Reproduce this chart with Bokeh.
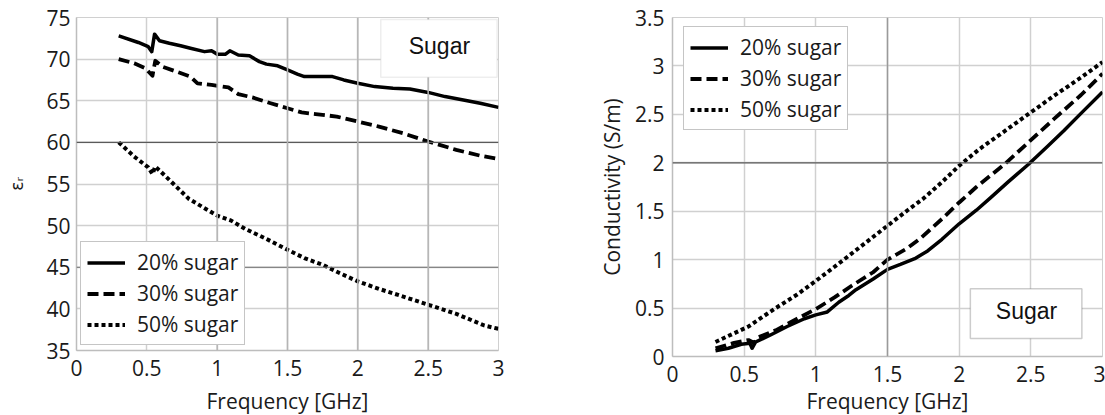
from bokeh.plotting import figure
from bokeh.layouts import row
from bokeh.models import (Legend, LegendItem, Span, BoxAnnotation, Label,
                          FixedTicker, NumeralTickFormatter, Range1d)
from bokeh.embed import file_html
from bokeh.resources import INLINE

# ---------------- data ----------------
series_labels = ["20% sugar", "30% sugar", "50% sugar"]
x_ticks = [0, 0.5, 1, 1.5, 2, 2.5, 3]
eps_ticks = [35, 40, 45, 50, 55, 60, 65, 70, 75]
cond_ticks = [0, 0.5, 1, 1.5, 2, 2.5, 3, 3.5]

# permittivity (left)
freq_eps_20 = [0.30, 0.44, 0.51, 0.535, 0.555, 0.59, 0.66, 0.74, 0.81, 0.91, 0.96, 1.00,
               1.06, 1.09, 1.15, 1.23, 1.30, 1.35, 1.43, 1.50, 1.57, 1.62, 1.70, 1.82,
               1.90, 2.00, 2.12, 2.25, 2.37, 2.50, 2.62, 2.75, 2.87, 3.00]
eps_20 = [72.8, 72.0, 71.5, 70.9, 73.0, 72.2, 71.9, 71.6, 71.3, 70.9, 71.0, 70.6,
          70.6, 71.0, 70.5, 70.4, 69.7, 69.4, 69.2, 68.7, 68.2, 67.9, 67.9, 67.9,
          67.5, 67.1, 66.7, 66.5, 66.4, 66.0, 65.5, 65.1, 64.7, 64.2]

freq_eps_30 = [0.30, 0.41, 0.49, 0.54, 0.56, 0.61, 0.71, 0.81, 0.86, 0.96, 1.08, 1.15,
               1.25, 1.38, 1.50, 1.60, 1.70, 1.85, 2.00, 2.15, 2.32, 2.50, 2.70, 2.87, 3.00]
eps_30 = [70.0, 69.5, 68.9, 68.0, 69.8, 69.1, 68.5, 67.9, 67.1, 66.9, 66.6, 65.8,
          65.4, 64.7, 64.1, 63.6, 63.4, 63.1, 62.5, 61.9, 61.1, 60.1, 59.1, 58.4, 58.0]

freq_eps_50 = [0.30, 0.41, 0.51, 0.54, 0.56, 0.66, 0.80, 0.96, 1.00, 1.10, 1.20, 1.35,
               1.50, 1.62, 1.75, 1.87, 2.00, 2.15, 2.30, 2.50, 2.70, 2.90, 3.00]
eps_50 = [60.0, 58.3, 57.0, 56.2, 57.1, 55.5, 53.2, 51.6, 51.2, 50.6, 49.6, 48.4,
          47.1, 46.1, 45.3, 44.3, 43.3, 42.4, 41.6, 40.5, 39.4, 38.0, 37.6]

# conductivity (right)
freq_cond_20 = [0.30, 0.39, 0.48, 0.54, 0.555, 0.58, 0.68, 0.80, 0.92, 1.00, 1.08, 1.16,
                1.23, 1.28, 1.40, 1.50, 1.59, 1.69, 1.78, 1.88, 2.00, 2.12, 2.22, 2.34,
                2.48, 2.61, 2.73, 2.85, 3.00]
cond_20 = [0.06, 0.085, 0.126, 0.136, 0.085, 0.15, 0.22, 0.31, 0.39, 0.43, 0.46, 0.56,
           0.63, 0.69, 0.80, 0.90, 0.95, 1.01, 1.09, 1.21, 1.37, 1.51, 1.64, 1.80,
           1.98, 2.16, 2.33, 2.51, 2.73]

freq_cond_30 = [0.30, 0.43, 0.53, 0.57, 0.60, 0.72, 0.87, 1.00, 1.13, 1.25, 1.40, 1.50,
                1.64, 1.73, 1.88, 2.00, 2.12, 2.32, 2.49, 2.66, 2.85, 3.00]
cond_30 = [0.085, 0.14, 0.17, 0.14, 0.20, 0.27, 0.39, 0.49, 0.61, 0.73, 0.87, 1.00,
           1.12, 1.22, 1.42, 1.59, 1.75, 1.99, 2.22, 2.45, 2.70, 2.92]

freq_cond_50 = [0.30, 0.43, 0.53, 0.58, 0.72, 0.87, 1.00, 1.16, 1.30, 1.50, 1.64, 1.75,
                1.88, 2.00, 2.14, 2.32, 2.49, 2.66, 2.85, 3.00]
cond_50 = [0.15, 0.24, 0.31, 0.36, 0.50, 0.64, 0.78, 0.96, 1.12, 1.35, 1.51, 1.63,
           1.80, 1.97, 2.14, 2.33, 2.51, 2.69, 2.88, 3.04]

# ---------------- styling ----------------
FONT = "Open Sans"
TXT = "#1a1a1a"
GRID = "#d0d0d0"
dashes = ["solid", "11 5", "4 3"]
widths = [3.5, 3.8, 4.0]


def base_fig(x_rng, y_rng, frame_w, frame_h, bl, br, bt, bb, w, label_standoff):
    p = figure(width=w, frame_width=frame_w, frame_height=frame_h,
               x_range=x_rng, y_range=y_rng, output_backend="svg",
               toolbar_location=None, min_border_left=bl, min_border_right=br,
               min_border_top=bt, min_border_bottom=bb)
    p.outline_line_color = GRID
    p.background_fill_color = "white"
    p.border_fill_color = "white"
    for ax in (p.xaxis[0], p.yaxis[0]):
        ax.major_tick_in = 0
        ax.major_tick_out = 0
        ax.minor_tick_in = 0
        ax.minor_tick_out = 0
        ax.axis_line_color = "#bdbdbd"
        ax.axis_line_width = 1.5
        ax.major_label_text_font = FONT
        ax.major_label_text_font_size = "21px"
        ax.major_label_text_color = TXT
        ax.axis_label_text_font = FONT
        ax.axis_label_text_font_size = "21px"
        ax.axis_label_text_font_style = "normal"
        ax.axis_label_text_color = TXT
        ax.formatter = NumeralTickFormatter(format="0.[0]")
    p.xaxis.ticker = FixedTicker(ticks=x_ticks)
    p.xgrid.ticker = FixedTicker(ticks=x_ticks)
    p.grid.grid_line_color = GRID
    p.grid.grid_line_width = 1.5
    p.xaxis.axis_label = "Frequency [GHz]"
    p.xaxis.major_label_standoff = 9
    p.xaxis.axis_label_standoff = label_standoff
    return p


def add_legend(p, renderers, loc):
    items = [LegendItem(label=lab, renderers=[r]) for lab, r in zip(series_labels, renderers)]
    lg = Legend(items=items, location=loc, margin=0, padding=6, spacing=3,
                label_height=25, glyph_height=25, glyph_width=38, label_standoff=12,
                border_line_color="#8c8c8c", border_line_width=1.2,
                background_fill_color="white", background_fill_alpha=1.0,
                label_text_font=FONT, label_text_font_size="21px",
                label_text_color=TXT)
    p.add_layout(lg)


# ---------------- left: permittivity ----------------
p1 = base_fig(Range1d(0, 3), Range1d(35, 75), 422, 333, 76, 62, 17, 65, 560, 8)
p1.yaxis.ticker = FixedTicker(ticks=eps_ticks)
p1.ygrid.ticker = FixedTicker(ticks=eps_ticks)
p1.yaxis.axis_label = "εᵣ"
p1.yaxis.axis_label_text_font = "DejaVu Sans"
p1.yaxis.axis_label_text_font_size = "17px"
p1.yaxis.major_label_standoff = 6
p1.yaxis.axis_label_standoff = 16

p1.add_layout(Span(location=60, dimension="width", line_color="#5a5a5a", line_width=1.2))
p1.add_layout(Span(location=45, dimension="width", line_color="#6e6e6e", line_width=1.2))
for xv in (1, 1.5, 2, 2.5):
    p1.add_layout(Span(location=xv, dimension="height", line_color="#b5b5b5", line_width=1.5))

r1 = []
for xs, ys, d, w in zip([freq_eps_20, freq_eps_30, freq_eps_50], [eps_20, eps_30, eps_50], dashes, widths):
    r1.append(p1.line(xs, ys, line_color="black", line_width=w, line_dash=d, line_join="round"))
add_legend(p1, r1, (4, 5))

p1.add_layout(BoxAnnotation(left=2.163, right=2.99, bottom=67.83, top=74.76,
                            fill_color="white", fill_alpha=1.0,
                            line_color="#c8c8c8", line_width=1.5))
p1.add_layout(Label(x=2.58, y=71.6, text="Sugar", text_align="center", text_baseline="middle",
                    text_font="Liberation Sans", text_font_size="23px", text_color="#111111"))

# ---------------- right: conductivity ----------------
p2 = base_fig(Range1d(0, 3), Range1d(0, 3.5), 430, 339, 112, 3, 15, 61, 545, 2)
p2.yaxis.ticker = FixedTicker(ticks=cond_ticks)
p2.ygrid.ticker = FixedTicker(ticks=cond_ticks)
p2.yaxis.axis_label = "Conductivity (S/m)"
p2.yaxis.major_label_standoff = 8
p2.yaxis.axis_label_standoff = 6

p2.add_layout(Span(location=2, dimension="width", line_color="#5a5a5a", line_width=1.2))
p2.add_layout(Span(location=1.5, dimension="height", line_color="#9a9a9a", line_width=1.5))

r2 = []
for xs, ys, d, w in zip([freq_cond_20, freq_cond_30, freq_cond_50], [cond_20, cond_30, cond_50], dashes, widths):
    r2.append(p2.line(xs, ys, line_color="black", line_width=w, line_dash=d, line_join="round"))
add_legend(p2, r2, (11, 226))

p2.add_layout(BoxAnnotation(left=2.078, right=2.856, bottom=0.186, top=0.70,
                            fill_color="white", fill_alpha=1.0,
                            line_color="#555555", line_width=1.5))
p2.add_layout(Label(x=2.47, y=0.465, text="Sugar", text_align="center", text_baseline="middle",
                    text_font="Liberation Sans", text_font_size="23px", text_color="#111111"))

layout = row(p1, p2, spacing=0)
open("out.html", "w").write(file_html(layout, INLINE))
